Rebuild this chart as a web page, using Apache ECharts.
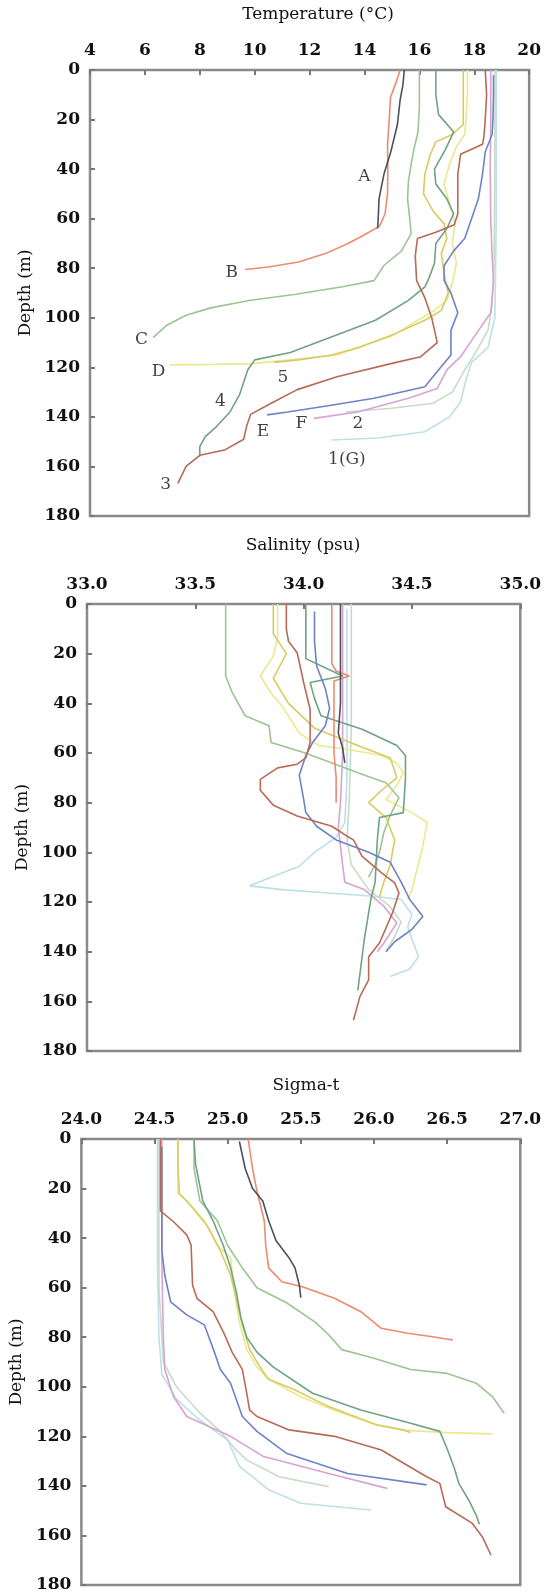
<!DOCTYPE html>
<html>
<head>
<meta charset="utf-8">
<script src="https://cdn.jsdelivr.net/npm/echarts@6/dist/echarts.min.js"></script>
<style>
  html, body { margin: 0; padding: 0; background: #fff; }
  #chart { width: 544px; height: 1595px; }
</style>
</head>
<body>
<div id="chart"></div>
<script>
// profile order (light ones first so the dark ones sit on top)
const profileNames = ['1(G)', '2', 'D', 'F', 'C', '5', '4', 'E', 'B', '3', 'A'];

// temperature (deg C) vs depth (m)
const tempA = [[15.45,0],[15.4,6],[15.3,12],[15.26,16],[15.2,22],[14.96,33],[14.71,42],[14.53,52],[14.5,60],[14.48,64]];
const tempB = [[15.3,0],[15.15,5],[14.95,11],[14.9,20],[14.84,30],[14.85,40],[14.84,50],[14.75,58],[14.55,63],[14.0,66.5],[13.4,70],[12.6,74],[11.6,77.5],[10.5,79.5],[9.65,80.5]];
const tempC = [[16.0,0],[16.0,15],[15.95,25],[15.8,32],[15.7,38],[15.6,45],[15.57,52],[15.65,60],[15.7,66],[15.35,73],[14.7,79],[14.35,85],[13.2,87.5],[11.5,90.5],[9.8,93],[8.4,96],[7.5,99],[6.8,103],[6.3,108]];
const tempD = [[17.75,0],[17.75,10],[17.7,20],[17.65,26],[17.35,31],[17.1,38],[16.9,46],[17.1,54],[17.3,62],[17.2,70],[17.35,78],[17.2,86],[17.0,93],[16.55,97],[15.8,102],[14.96,107.6],[14.0,111],[13.0,115],[11.3,117],[9.9,118.5],[8.5,118.8],[6.9,119]];
const temp5 = [[17.6,0],[17.6,10],[17.6,22],[17.2,26],[16.6,29],[16.4,34],[16.2,42],[16.15,50],[16.5,57],[16.9,62],[17.0,68],[16.8,74],[16.9,82],[17.05,90],[16.8,97],[16.2,101],[15.0,107],[13.8,112],[12.8,115],[11.6,117],[10.7,118]];
const temp4 = [[16.6,0],[16.6,10],[16.7,18],[17.25,25],[16.95,32],[16.55,40],[16.6,46],[17.0,52],[17.25,58],[17.0,64],[16.6,70],[16.55,78],[16.35,84],[16.2,87.5],[15.6,93],[14.4,101],[12.5,109],[11.3,114],[10.0,117],[9.75,121],[9.6,126],[9.45,131],[9.1,138],[8.6,144],[8.2,148],[8.0,152],[8.0,156]];
const temp3 = [[18.4,0],[18.45,10],[18.4,20],[18.35,27],[18.3,30],[17.5,34],[17.4,42],[17.4,58],[17.27,62.5],[16.6,65.5],[15.93,68],[15.85,75],[15.9,85],[16.2,92],[16.45,100],[16.65,110],[16.05,115.7],[15.0,118.4],[13.0,123.8],[11.55,129],[10.6,134.5],[9.85,139],[9.7,144],[9.6,149],[8.9,153.4],[8.0,155.5],[7.5,160],[7.2,166.8]];
const tempE = [[18.7,2],[18.7,10],[18.68,20],[18.65,26],[18.4,33],[18.3,42],[18.15,52],[17.9,60],[17.65,68],[17.25,73],[16.9,79],[16.9,85],[17.15,90],[17.4,98],[17.15,105],[17.15,115],[16.8,119.7],[16.2,127.8],[14.35,132.5],[12.5,135.8],[11.2,138],[10.45,139.2]];
const tempF = [[18.6,0],[18.6,20],[18.58,40],[18.6,60],[18.65,75],[18.7,85],[18.6,98],[18.1,106],[17.5,115.7],[17.0,121],[16.65,128.5],[15.6,132.5],[13.75,138],[12.15,140.6]];
const temp2 = [[18.75,0],[18.75,40],[18.72,80],[18.65,95],[18.5,105],[18.0,115],[17.6,122],[17.2,130],[16.5,134.5],[15.0,136.5],[13.3,138]];
const temp1G = [[18.8,0],[18.8,60],[18.75,100],[18.5,112],[17.9,118],[17.7,125],[17.5,134],[17.1,140],[16.2,146],[14.5,148.5],[12.8,149.3]];

// salinity (psu) vs depth (m)
const salA = [[34.17,0],[34.17,20],[34.17,40],[34.16,52],[34.18,58],[34.19,64]];
const salB = [[34.13,0],[34.13,15],[34.13,24],[34.15,27],[34.21,29],[34.14,31],[34.14,45],[34.14,60],[34.15,70],[34.15,80]];
const salC = [[33.64,0],[33.64,15],[33.64,29],[33.67,35.6],[33.73,45],[33.84,49],[33.85,55.8],[34.0,59.8],[34.1,63],[34.25,68],[34.38,72],[34.44,78],[34.4,85],[34.37,92],[34.35,100],[34.33,105],[34.3,110]];
const salD = [[33.88,0],[33.88,13],[33.86,21],[33.8,29],[33.85,36],[33.9,41],[33.98,52],[34.07,57],[34.2,58.5],[34.36,61],[34.43,64],[34.46,68],[34.43,73],[34.38,78.7],[34.5,84],[34.57,88],[34.55,97.5],[34.52,108],[34.5,115],[34.48,119]];
const sal5 = [[33.86,0],[33.86,12],[33.92,20],[33.86,30],[33.93,40],[34.05,50],[34.25,57],[34.4,62],[34.43,70],[34.36,75],[34.3,80],[34.38,86],[34.42,95],[34.4,105],[34.37,112],[34.35,118]];
const sal4 = [[34.01,0],[34.01,15],[34.01,22],[34.18,29],[34.03,31.6],[34.05,38],[34.08,45],[34.27,50.4],[34.43,57],[34.47,61],[34.47,70],[34.46,84],[34.35,86],[34.34,95],[34.33,112],[34.31,119],[34.28,135],[34.25,155.6]];
const sal3 = [[33.92,0],[33.92,10],[33.93,15],[33.97,19.6],[34.0,31.6],[34.03,42.5],[34.03,55.8],[34.01,62],[33.97,64.5],[33.88,66],[33.8,70.6],[33.8,75],[33.86,81],[33.97,85.4],[34.13,89.5],[34.2,93.5],[34.23,95],[34.27,101.6],[34.36,108.3],[34.42,112.3],[34.44,116.4],[34.41,124.4],[34.35,136.5],[34.3,142],[34.3,151.4],[34.26,158],[34.23,167.5]];
const salE = [[34.05,3],[34.05,15],[34.06,25],[34.1,34],[34.12,42],[34.1,49],[34.04,56],[34.01,61],[33.98,69],[34.0,78.7],[34.01,84],[34.06,89.5],[34.15,95],[34.3,100],[34.4,104],[34.45,112],[34.49,119],[34.55,125.8],[34.5,131],[34.42,136],[34.38,140]];
const salF = [[34.18,0],[34.18,30],[34.18,60],[34.17,80],[34.16,90],[34.17,97.5],[34.18,105],[34.19,112],[34.28,115],[34.37,121.7],[34.43,128.5],[34.37,136.5],[34.34,140]];
const sal2 = [[34.22,0],[34.22,50],[34.21,80],[34.2,95],[34.22,105],[34.3,115],[34.4,122],[34.45,128],[34.42,134],[34.38,140]];
const sal1G = [[34.2,2],[34.2,40],[34.2,70],[34.19,88],[34.15,94],[34.05,100],[33.98,105.6],[33.85,110],[33.75,113.5],[33.9,115],[34.13,116.5],[34.32,117.7],[34.45,119],[34.5,125],[34.48,130],[34.5,135],[34.53,142],[34.49,147],[34.4,150]];

// sigma-t vs depth (m)
const sigA = [[25.08,1],[25.12,12],[25.17,20],[25.24,25],[25.28,33],[25.33,41],[25.42,48],[25.46,52],[25.49,59],[25.5,64]];
const sigB = [[25.14,0],[25.17,12],[25.2,21],[25.25,33],[25.26,43],[25.28,52],[25.37,57.6],[25.51,59.6],[25.73,64.3],[25.91,69.7],[26.05,76.4],[26.23,78.4],[26.4,79.8],[26.54,81.1]];
const sigC = [[24.77,0],[24.77,12],[24.81,25],[24.93,33],[25.0,43],[25.1,52],[25.2,60],[25.4,66],[25.6,74],[25.69,79],[25.78,85],[26.0,88.5],[26.25,93],[26.5,94.6],[26.7,98.6],[26.81,104],[26.89,110.7]];
const sigD = [[24.66,0],[24.66,12],[24.66,22],[24.72,25],[24.84,33],[24.93,43],[25.02,48],[25.04,59],[25.08,74],[25.13,85],[25.2,92],[25.28,97],[25.5,104],[25.75,110],[26.0,115],[26.2,117.5],[26.5,118.5],[26.81,119]];
const sig5 = [[24.66,0],[24.66,12],[24.67,22],[24.75,27],[24.86,35],[24.95,45],[25.02,55],[25.06,65],[25.1,75],[25.15,85],[25.22,92],[25.28,97],[25.45,101],[25.69,108],[26.02,115.4],[26.2,117.4],[26.25,118.5]];
const sig4 = [[24.77,0],[24.78,10],[24.83,25],[24.9,33],[24.97,43],[25.02,52],[25.06,62],[25.09,72],[25.13,80],[25.2,86],[25.31,92],[25.58,102.6],[25.91,109.4],[26.25,114.7],[26.45,118],[26.5,125],[26.55,133],[26.58,139],[26.65,146],[26.7,152],[26.72,155.5]];
const sig3 = [[24.54,0],[24.54,15],[24.54,29],[24.63,33.4],[24.72,38.7],[24.75,42.8],[24.76,59],[24.79,64.3],[24.9,69.7],[24.97,77.8],[25.03,86],[25.1,93],[25.13,102.6],[25.15,109.4],[25.2,112],[25.42,117.4],[25.73,120],[26.05,125.5],[26.36,136.3],[26.45,139],[26.49,148.4],[26.67,155],[26.74,160.5],[26.8,168]];
const sigE = [[24.55,3],[24.55,30],[24.55,45],[24.57,55],[24.61,65.7],[24.72,71],[24.84,75],[24.9,84.5],[24.95,93],[25.02,98.6],[25.1,112],[25.2,118],[25.4,126.8],[25.82,135],[26.36,139.6]];
const sigF = [[24.55,0],[24.55,50],[24.56,80],[24.57,93],[24.63,104],[24.72,112],[25.02,120],[25.24,128],[25.69,135],[26.09,141]];
const sig2 = [[24.53,0],[24.53,60],[24.56,90],[24.65,100],[24.8,110],[24.95,118],[25.05,125],[25.13,129.5],[25.35,136.3],[25.69,140.3]];
const sig1G = [[24.52,0],[24.52,50],[24.53,80],[24.55,95],[24.65,105],[24.8,113],[25.0,121.5],[25.08,132],[25.28,141.6],[25.5,147],[25.98,149.7]];

// profile labels in the temperature panel (temp, depth)
const labelNames = ['A', 'B', 'C', 'D', '4', '5', 'E', 'F', '2', '1(G)', '3'];
const labelTemp = [14.0, 9.16, 5.88, 6.5, 8.75, 11.03, 10.3, 11.7, 13.76, 13.36, 6.76];
const labelDepth = [43, 81.8, 109, 121.7, 134, 124, 146, 142.6, 142.6, 157.4, 167.5];

const panelTitles = ['Temperature (°C)', 'Salinity (psu)', 'Sigma-t'];

const panels = [
  { A: tempA, B: tempB, C: tempC, D: tempD, '5': temp5, '4': temp4, '3': temp3, E: tempE, F: tempF, '2': temp2, '1(G)': temp1G },
  { A: salA, B: salB, C: salC, D: salD, '5': sal5, '4': sal4, '3': sal3, E: salE, F: salF, '2': sal2, '1(G)': sal1G },
  { A: sigA, B: sigB, C: sigC, D: sigD, '5': sig5, '4': sig4, '3': sig3, E: sigE, F: sigF, '2': sig2, '1(G)': sig1G }
];

const lineColors = {
  'A': '#4b505c',
  'B': '#ec8a72',
  'C': '#9cc592',
  'D': '#ece88e',
  '5': '#d8cb62',
  '4': '#6fa383',
  '3': '#b86a55',
  'E': '#6e82c6',
  'F': '#d8a2d4',
  '2': '#c6dcc9',
  '1(G)': '#bde0e8'
};

const FONT = 'DejaVu Serif';
const chart = echarts.init(document.getElementById('chart'));

function xAxisFor(idx, min, max, interval, digits) {
  return {
    gridIndex: idx, type: 'value', position: 'top',
    min: min, max: max, interval: interval,
    axisLine: { show: false },
    axisTick: { show: true, inside: true, length: 5, lineStyle: { color: '#777', width: 2 } },
    axisLabel: {
      margin: 11, fontFamily: FONT, fontWeight: 'bold', fontSize: 17, color: '#111',
      showMinLabel: true, showMaxLabel: true,
      formatter: (v) => v.toFixed(digits)
    },
    splitLine: { show: false }
  };
}

function yAxisFor(idx) {
  return {
    gridIndex: idx, type: 'value', inverse: true,
    min: 0, max: 180, interval: 20,
    name: 'Depth (m)', nameLocation: 'middle', nameGap: 54, nameRotate: 90,
    nameTextStyle: { fontFamily: FONT, fontSize: 17, color: '#111' },
    axisLine: { show: false },
    axisTick: { show: true, inside: true, length: 5, lineStyle: { color: '#777', width: 2 } },
    axisLabel: { margin: 10, fontFamily: FONT, fontWeight: 'bold', fontSize: 17, color: '#111',
      showMinLabel: true, showMaxLabel: true },
    splitLine: { show: false }
  };
}

function titleFor(idx, x, y) {
  return {
    text: panelTitles[idx], left: x, top: y, textAlign: 'center', padding: 0,
    textStyle: { fontFamily: FONT, fontSize: 17, fontWeight: 'normal', color: '#111' }
  };
}

const gridStyle = { show: true, borderColor: '#8a8a8a', borderWidth: 2.5 };

const series = [];
panels.forEach((panel, p) => {
  profileNames.forEach((n) => {
    series.push({
      type: 'line', name: n + '-' + p,
      xAxisIndex: p, yAxisIndex: p,
      data: panel[n],
      showSymbol: false, symbol: 'none',
      lineStyle: { color: lineColors[n], width: 1.6 },
      silent: true
    });
  });
});

series.push({
  type: 'scatter', xAxisIndex: 0, yAxisIndex: 0,
  symbolSize: 1, itemStyle: { color: 'rgba(0,0,0,0)' },
  data: labelNames.map((n, i) => ({ name: n, value: [labelTemp[i], labelDepth[i]] })),
  label: { show: true, position: 'inside', formatter: (d) => d.name,
    fontFamily: FONT, fontSize: 17, color: '#111' },
  silent: true, z: 10
});

chart.setOption({
  animation: false,
  backgroundColor: '#fff',
  title: [titleFor(0, 318, 6), titleFor(1, 303, 537), titleFor(2, 306, 1077)],
  grid: [
    Object.assign({ left: 90, top: 70, width: 440, height: 446 }, gridStyle),
    Object.assign({ left: 87, top: 604, width: 437, height: 447 }, gridStyle),
    Object.assign({ left: 79, top: 1139, width: 445, height: 446 }, gridStyle)
  ],
  xAxis: [
    xAxisFor(0, 4, 20, 2, 0),
    xAxisFor(1, 33, 35, 0.5, 1),
    xAxisFor(2, 24, 27, 0.5, 1)
  ],
  yAxis: [yAxisFor(0), yAxisFor(1), yAxisFor(2)],
  series: series
});
</script>
</body>
</html>
